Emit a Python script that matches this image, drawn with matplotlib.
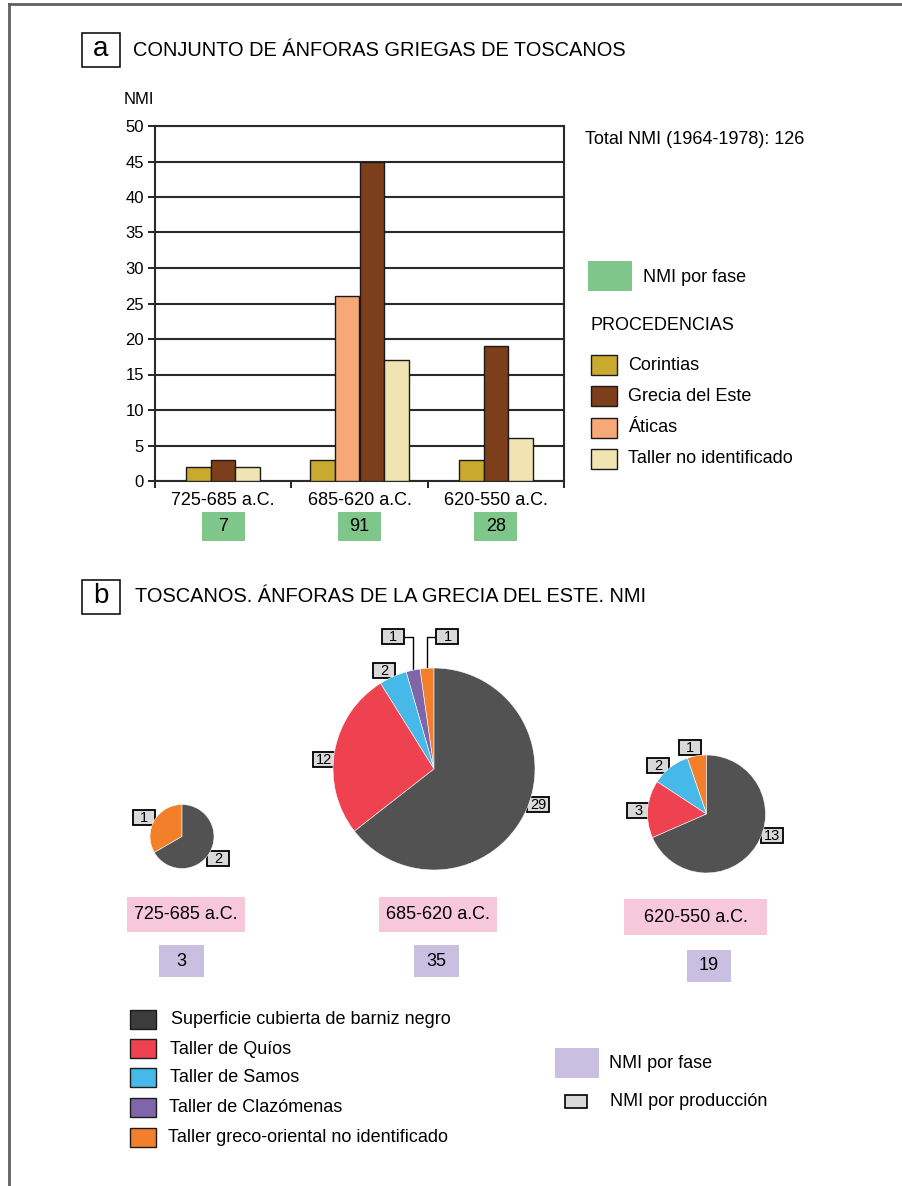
import matplotlib
matplotlib.use("Agg")
import matplotlib.pyplot as plt
from matplotlib.patches import Rectangle
from matplotlib.lines import Line2D
import numpy as np

plt.rcParams['font.family'] = ['Liberation Sans', 'DejaVu Sans']

# ---------------- data ----------------
periods = ["725-685 a.C.", "685-620 a.C.", "620-550 a.C."]

# panel a: NMI by origin and phase
origin_names = ["Corintias", "Grecia del Este", "Áticas", "Taller no identificado"]
corintias = [2, 3, 3]
grecia_este = [3, 45, 19]
aticas = [0, 26, 0]
taller_no_id = [2, 17, 6]
nmi_fase_a = [7, 91, 28]
total_label = "Total NMI (1964-1978): 126"

# panel b: East Greek amphorae by production
production_names = ["Superficie cubierta de barniz negro", "Taller de Quíos",
                    "Taller de Samos", "Taller de Clazómenas",
                    "Taller greco-oriental no identificado"]
barniz_negro = [2, 29, 13]
quios = [0, 12, 3]
samos = [0, 2, 2]
clazomenas = [0, 1, 0]
greco_oriental = [1, 1, 1]
nmi_fase_b = [3, 35, 19]

# ---------------- styles ----------------
W, H, DPI = 902, 1186, 100
FS = 13
c_cor, c_gre, c_ati, c_tal = "#C9AA2E", "#7D3F1B", "#F7A877", "#F0E4B2"
c_green = "#7EC68A"
c_negro, c_quios, c_samos, c_claz, c_greco = "#525252", "#EE4250", "#47B9E8", "#8066A8", "#F47F2A"
c_negro_leg = "#3C3C3C"
c_pink, c_lav, c_lab = "#F7C7DA", "#C9BFE0", "#D9D9D9"

fig = plt.figure(figsize=(W / DPI, H / DPI), dpi=DPI, facecolor="white")

# pixel-space overlay for frame, titles, legends and boxes
ov = fig.add_axes([0, 0, 1, 1], zorder=0)
ov.set_xlim(0, W)
ov.set_ylim(H, 0)
ov.axis("off")


def px_axes(x0, y0, x1, y1, **kw):
    return fig.add_axes([x0 / W, 1 - y1 / H, (x1 - x0) / W, (y1 - y0) / H], **kw)


def box(x0, y0, w, h, fc, ec="none", lw=1.0, z=2):
    ov.add_patch(Rectangle((x0, y0), w, h, facecolor=fc, edgecolor=ec, linewidth=lw, zorder=z))


def txt(x, y, s, size=FS, ha="left", va="center", **kw):
    ov.text(x, y, s, fontsize=size, ha=ha, va=va, color="black", zorder=5, **kw)


# outer frame (top and left edges)
ov.add_line(Line2D([9, W], [4, 4], color="#606060", lw=2))
ov.add_line(Line2D([9, 9], [4, H], color="#606060", lw=2))

# section headers
box(82, 33, 38, 34, "white", "black", 1.1)
txt(101, 49, "a", size=20, ha="center")
txt(133, 50, "CONJUNTO DE ÁNFORAS GRIEGAS DE TOSCANOS", size=14.4)
box(82, 580, 38, 34, "white", "black", 1.1)
txt(101, 596, "b", size=20, ha="center")
txt(135, 596, "TOSCANOS. ÁNFORAS DE LA GRECIA DEL ESTE. NMI", size=14.4)

# ---------------- panel a: grouped bars ----------------
ax = px_axes(155, 126, 564, 481, zorder=1)
ax.set_facecolor("none")
ax.set_xlim(-0.5, 2.5)
ax.set_ylim(0, 50)
series = [(corintias, c_cor), (aticas, c_ati), (grecia_este, c_gre), (taller_no_id, c_tal)]
bar_w = 0.18
for g in range(len(periods)):
    present = [(vals[g], col) for vals, col in series if vals[g] > 0]
    n = len(present)
    for k, (v, col) in enumerate(present):
        ax.bar(g + (k - (n - 1) / 2) * bar_w, v, width=bar_w, color=col,
               edgecolor="#1a1a1a", linewidth=1.0, zorder=3)

ax.set_yticks(range(0, 51, 5))
ax.yaxis.grid(True, color="#2a2a2a", linewidth=1.5, zorder=1)
ax.set_axisbelow(True)
for side in ["left", "bottom", "top", "right"]:
    ax.spines[side].set_color("#2a2a2a")
    ax.spines[side].set_linewidth(1.5)
ax.tick_params(axis="y", direction="out", length=5, width=1.2, labelsize=12, pad=3)
ax.set_xticks(range(len(periods)))
ax.set_xticklabels(periods, fontsize=FS)
ax.tick_params(axis="x", which="major", length=0, pad=8)
ax.set_xticks([-0.5, 0.5, 1.5, 2.5], minor=True)
ax.tick_params(axis="x", which="minor", direction="out", length=5, width=1.2)

# per-phase totals below the axis (green boxes)
dy = 50 / 355.0
for g, v in enumerate(nmi_fase_a):
    bw = 43 * 3 / 409.0
    ax.add_patch(Rectangle((g - bw / 2, -60 * dy), bw, 29 * dy, facecolor=c_green,
                           edgecolor="none", clip_on=False, zorder=2))
    ax.text(g, -45.5 * dy, str(v), ha="center", va="center", fontsize=FS, clip_on=False)

txt(124, 99, "NMI", size=12)
txt(585, 140, total_label)

# panel a legend
box(588, 261, 44, 30, c_green)
txt(643, 277, "NMI por fase")
txt(590, 326, "PROCEDENCIAS")
leg_a = [(origin_names[0], c_cor), (origin_names[1], c_gre), (origin_names[2], c_ati), (origin_names[3], c_tal)]
for i, (name, col) in enumerate(leg_a):
    yc = 365 + i * 31.3
    box(591, yc - 10, 26, 20, col, "#1a1a1a", 1.0)
    txt(628, yc, name)

# ---------------- panel b: pies ----------------
pie_geom = [(182, 836.5, 32), (434, 769, 101), (706.5, 814, 59)]
# wedges run counter-clockwise from twelve o'clock
wedge_series = [(greco_oriental, c_greco), (clazomenas, c_claz), (samos, c_samos),
                (quios, c_quios), (barniz_negro, c_negro)]
# angular nudges (degrees) of the value labels, per pie and per drawn wedge
label_nudge = [[4, -1], [0, 0, 3, 5, 7], [4.5, 7, 1.5, 15]]
label_gap = [10.5, 9.5, 9.5]
pink_boxes = [(127, 897, 118, 35), (379, 897, 118, 35), (624, 899, 143, 36)]
lav_boxes = [(159, 945, 45, 32), (414, 945, 45, 32), (687, 950, 44, 32)]


def value_box(xc, yc, s):
    box(xc - 11, yc - 7.5, 22, 15, c_lab, "black", 1.3, z=4)
    txt(xc, yc + 0.5, s, size=10.5, ha="center")


for p, (cx, cy, r) in enumerate(pie_geom):
    vals = [s[p] for s, _ in wedge_series if s[p] > 0]
    cols = [c for s, c in wedge_series if s[p] > 0]
    pax = px_axes(cx - r, cy - r, cx + r, cy + r, zorder=2)
    pax.pie(vals, colors=cols, startangle=90, counterclock=True, radius=1,
            wedgeprops=dict(edgecolor="white", linewidth=0.4))
    pax.set_xlim(-1, 1)
    pax.set_ylim(-1, 1)
    pax.set_aspect("equal")
    pax.axis("off")

    total = float(sum(vals))
    start = 90.0
    small = []
    for i, v in enumerate(vals):
        span = 360.0 * v / total
        mid = start + span / 2
        start += span
        if v / total < 0.03:
            small.append((v, np.radians(mid)))
            continue
        a = np.radians(mid + label_nudge[p][i])
        d = r + label_gap[p]
        value_box(cx + d * np.cos(a), cy - d * np.sin(a), str(v))
    # thin wedges get elbow leader lines to labels above the pie
    small.sort(key=lambda t: np.cos(t[1]))
    for j, (v, mid) in enumerate(small):
        ex, ey = cx + r * np.cos(mid), cy - r * np.sin(mid)
        ly = cy - r - 31.5
        side = -1 if j == 0 else 1
        bx = ex + side * 20.5
        ov.add_line(Line2D([ex, ex, bx - side * 11], [ey, ly, ly], color="black", lw=1.0, zorder=3))
        value_box(bx, ly, str(v))

    x0, y0, w, h = pink_boxes[p]
    box(x0, y0, w, h, c_pink)
    txt(x0 + w / 2, y0 + h / 2, periods[p], ha="center")
    x0, y0, w, h = lav_boxes[p]
    box(x0, y0, w, h, c_lav)
    txt(x0 + w / 2, y0 + h / 2, str(nmi_fase_b[p]), ha="center")

# panel b legend
leg_b_cols = [c_negro_leg, c_quios, c_samos, c_claz, c_greco]
leg_b_y = [1019, 1048, 1077, 1107, 1137]
for name, col, yc, tx in zip(production_names, leg_b_cols, leg_b_y, [171, 170, 170, 169, 168]):
    box(130, yc - 9.5, 26, 19, col, "#1a1a1a", 1.0)
    txt(tx, yc + 1, name)

box(555, 1048, 44, 30, c_lav)
txt(609, 1064, "NMI por fase")
box(565, 1095, 22, 13, c_lab, "black", 1.2)
txt(610, 1101, "NMI por producción")

fig.savefig("out.png", dpi=DPI, facecolor="white")
